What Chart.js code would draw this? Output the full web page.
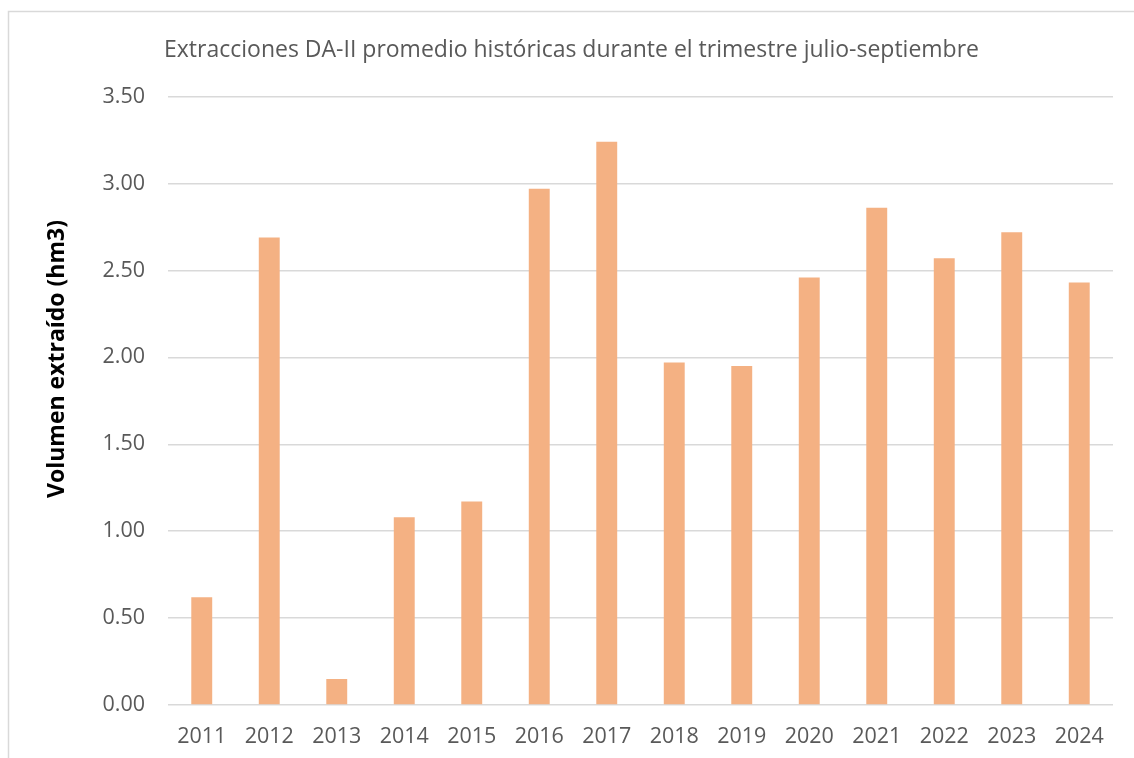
<!DOCTYPE html>
<html>
<head>
<meta charset="utf-8">
<script src="https://cdn.jsdelivr.net/npm/chart.js@4/dist/chart.umd.min.js"></script>
<style>
  html, body { margin: 0; padding: 0; background: #ffffff; }
  #wrap { position: relative; width: 1134px; height: 758px; }
</style>
</head>
<body>
<div id="wrap"><canvas id="c" width="1134" height="758"></canvas></div>
<script>
const categories = ['2011','2012','2013','2014','2015','2016','2017','2018','2019','2020','2021','2022','2023','2024'];
const volumes = [0.62, 2.69, 0.15, 1.08, 1.17, 2.97, 3.24, 1.97, 1.95, 2.46, 2.86, 2.57, 2.72, 2.43];
const yTicks = [0, 0.5, 1, 1.5, 2, 2.5, 3, 3.5];
const chartTitle = 'Extracciones DA-II promedio históricas durante el trimestre julio-septiembre';
const yAxisTitle = 'Volumen extraído (hm3)';

const FONT = "'Open Sans', 'DejaVu Sans', sans-serif";

const framePlugin = {
  id: 'frame',
  beforeDraw(chart) {
    const ctx = chart.ctx;
    ctx.save();
    ctx.fillStyle = '#ffffff';
    ctx.fillRect(0, 0, chart.width, chart.height);
    ctx.strokeStyle = '#d9d9d9';
    ctx.lineWidth = 1.5;
    ctx.beginPath();
    ctx.moveTo(8.5, chart.height);
    ctx.lineTo(8.5, 11.5);
    ctx.lineTo(chart.width, 11.5);
    ctx.stroke();
    ctx.restore();
  },
  afterDraw(chart) {
    const ctx = chart.ctx;
    ctx.save();
    ctx.translate(57, 359);
    ctx.rotate(-Math.PI / 2);
    ctx.font = "bold 23px " + FONT;
    ctx.fillStyle = '#000000';
    ctx.textAlign = 'center';
    ctx.textBaseline = 'middle';
    ctx.fillText(yAxisTitle, 0, 0);
    ctx.restore();
  }
};

new Chart(document.getElementById('c'), {
  type: 'bar',
  data: {
    labels: categories,
    datasets: [{
      data: volumes,
      backgroundColor: '#F4B183',
      borderWidth: 0,
      barPercentage: 0.31,
      categoryPercentage: 1.0
    }]
  },
  options: {
    responsive: false,
    animation: false,
    devicePixelRatio: 1,
    layout: { padding: { top: 0, left: 30, right: 21, bottom: 0 } },
    plugins: {
      legend: { display: false },
      tooltip: { enabled: false },
      title: {
        display: true,
        text: chartTitle,
        color: '#595959',
        font: { family: FONT, size: 23, weight: 'normal' },
        padding: { top: 37, bottom: 32 }
      }
    },
    scales: {
      x: {
        grid: { display: false, drawTicks: false, tickLength: 0 },
        border: { display: false },
        ticks: {
          color: '#595959',
          font: { family: FONT, size: 21.5 },
          padding: 19,
          maxRotation: 0,
          autoSkip: false
        },
        afterFit(scale) { scale.height = 53; }
      },
      y: {
        min: 0,
        max: 3.5,
        afterBuildTicks(scale) { scale.ticks = yTicks.map(v => ({ value: v })); },
        grid: { color: '#d9d9d9', lineWidth: 1.5, drawTicks: false, tickLength: 0 },
        border: { display: false },
        ticks: {
          color: '#595959',
          font: { family: FONT, size: 21.5 },
          padding: 23,
          callback: (v) => Number(v).toFixed(2)
        },
        afterFit(scale) { scale.width = 138; }
      }
    }
  },
  plugins: [framePlugin]
});
</script>
</body>
</html>
